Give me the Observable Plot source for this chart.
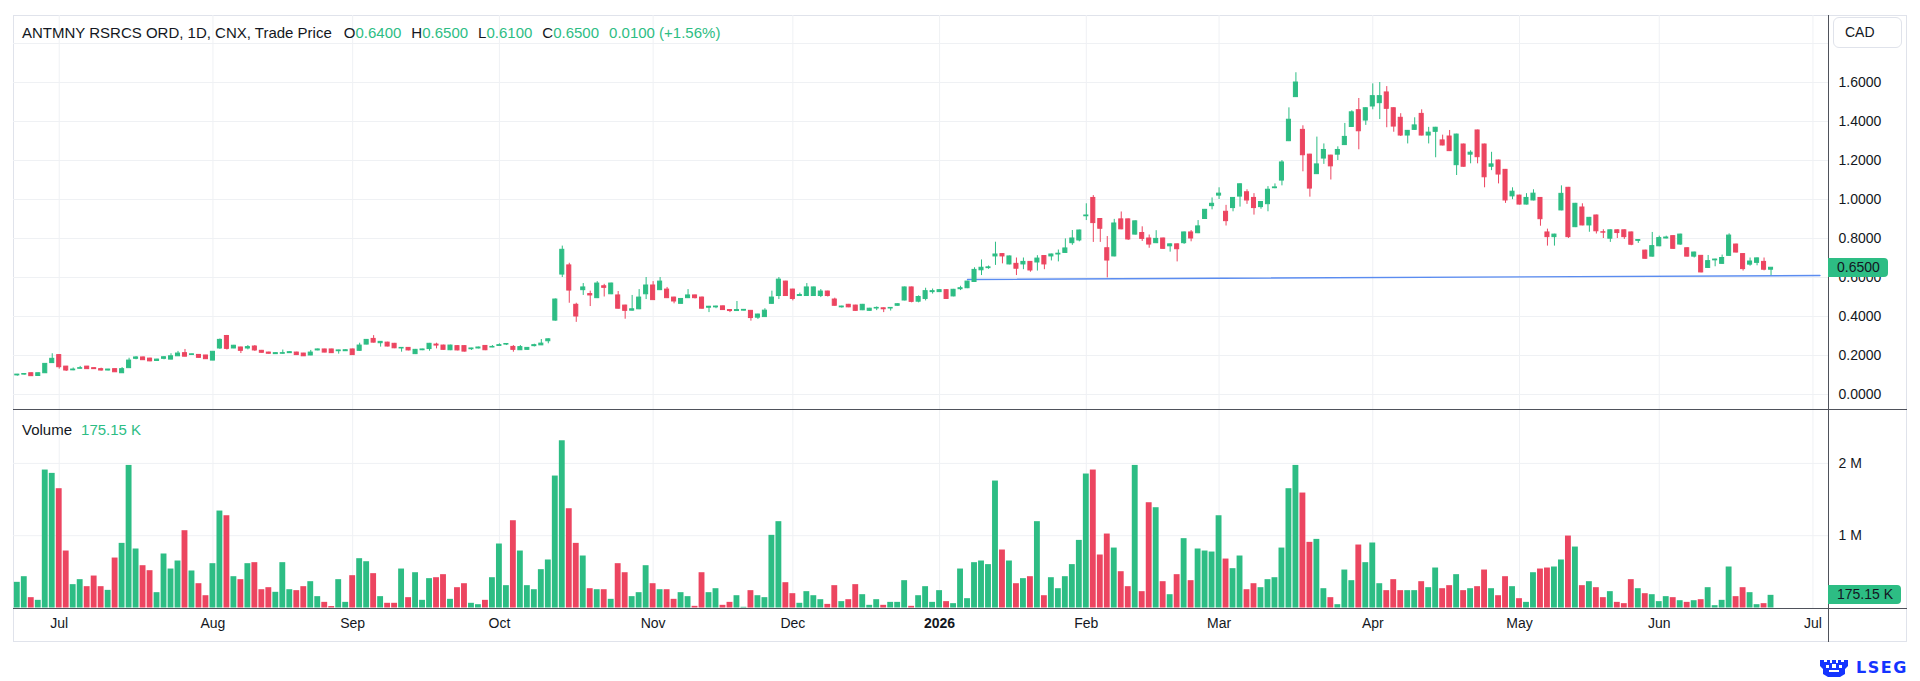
<!DOCTYPE html>
<html><head><meta charset="utf-8">
<script src="https://cdn.jsdelivr.net/npm/d3@7"></script>
<script src="https://cdn.jsdelivr.net/npm/@observablehq/plot@0.6"></script>
<style>
html,body{margin:0;padding:0;background:#fff;}
#wrap{position:relative;width:1920px;height:681px;overflow:hidden;font-family:"Liberation Sans",Arial,sans-serif;color:#131722;background:#fff;}
.ov{position:absolute;white-space:pre;}
.g{color:#2dbd84}
</style></head>
<body><div id="wrap"></div>
<script>
// ---------- DATA ----------
const open = [
0.098,0.102,0.109,0.095,0.109,0.161,0.202,0.143,0.124,0.132,
0.143,0.135,0.130,0.123,0.130,0.109,0.135,0.183,0.190,0.184,
0.172,0.183,0.179,0.196,0.212,0.203,0.203,0.200,0.174,0.236,
0.300,0.236,0.241,0.236,0.246,0.224,0.215,0.207,0.209,0.212,
0.215,0.210,0.200,0.226,0.231,0.231,0.222,0.222,0.231,0.224,
0.256,0.285,0.263,0.266,0.260,0.236,0.239,0.207,0.227,0.233,
0.256,0.251,0.227,0.248,0.248,0.232,0.236,0.249,0.241,0.249,
0.256,0.244,0.227,0.229,0.248,0.252,0.273,0.379,0.615,0.662,
0.460,0.535,0.515,0.494,0.555,0.514,0.508,0.456,0.430,0.437,
0.514,0.559,0.535,0.538,0.497,0.465,0.494,0.508,0.497,0.445,
0.447,0.452,0.433,0.428,0.430,0.429,0.394,0.397,0.465,0.505,
0.579,0.538,0.505,0.505,0.505,0.505,0.528,0.487,0.447,0.460,
0.456,0.432,0.429,0.441,0.442,0.441,0.455,0.482,0.549,0.476,
0.490,0.525,0.525,0.535,0.503,0.540,0.545,0.577,0.637,0.648,
0.708,0.720,0.667,0.670,0.667,0.680,0.677,0.710,0.708,0.718,
0.726,0.776,0.790,0.914,1.008,0.900,0.750,0.708,0.898,0.898,
0.820,0.828,0.800,0.776,0.800,0.760,0.770,0.776,0.831,0.827,
0.900,0.966,1.020,0.937,0.956,1.015,1.037,1.008,0.961,0.976,
1.058,1.097,1.299,1.525,1.357,1.230,1.130,1.210,1.225,1.230,
1.279,1.372,1.458,1.405,1.477,1.494,1.549,1.468,1.419,1.328,
1.357,1.439,1.328,1.347,1.303,1.323,1.176,1.282,1.230,1.354,
1.282,1.168,1.200,1.152,1.016,1.020,0.974,0.995,1.008,0.831,
0.807,0.944,1.060,0.858,0.959,0.867,0.918,0.832,0.799,0.842,
0.842,0.831,0.788,0.738,0.707,0.760,0.800,0.812,0.769,0.750,
0.707,0.711,0.649,0.688,0.670,0.711,0.769,0.720,0.666,0.675,
0.680,0.640];
const high = [
0.103,0.107,0.110,0.110,0.158,0.209,0.205,0.144,0.136,0.144,
0.144,0.137,0.135,0.129,0.131,0.138,0.186,0.194,0.192,0.186,
0.181,0.194,0.209,0.221,0.231,0.207,0.205,0.201,0.220,0.285,
0.303,0.252,0.243,0.251,0.251,0.226,0.217,0.214,0.228,0.219,
0.217,0.211,0.226,0.233,0.232,0.232,0.227,0.229,0.233,0.263,
0.282,0.302,0.271,0.268,0.262,0.240,0.240,0.231,0.232,0.262,
0.263,0.253,0.253,0.250,0.250,0.237,0.243,0.251,0.251,0.260,
0.260,0.251,0.251,0.241,0.258,0.282,0.285,0.490,0.761,0.673,
0.468,0.569,0.530,0.579,0.565,0.571,0.528,0.458,0.508,0.538,
0.600,0.579,0.600,0.549,0.499,0.492,0.538,0.510,0.500,0.452,
0.453,0.454,0.435,0.477,0.436,0.431,0.412,0.440,0.530,0.600,
0.581,0.540,0.520,0.569,0.551,0.538,0.530,0.494,0.453,0.462,
0.458,0.462,0.442,0.449,0.444,0.446,0.465,0.551,0.551,0.506,
0.545,0.541,0.537,0.537,0.539,0.555,0.581,0.650,0.690,0.659,
0.781,0.722,0.710,0.700,0.700,0.682,0.712,0.712,0.720,0.741,
0.798,0.841,0.843,0.978,1.020,0.902,0.810,0.898,0.936,0.900,
0.890,0.860,0.818,0.840,0.802,0.772,0.772,0.833,0.841,0.892,
0.949,1.008,1.060,0.970,1.010,1.080,1.050,1.030,0.989,1.066,
1.080,1.200,1.470,1.650,1.378,1.232,1.320,1.285,1.227,1.270,
1.390,1.455,1.518,1.470,1.593,1.600,1.579,1.470,1.440,1.354,
1.419,1.460,1.370,1.370,1.330,1.354,1.335,1.284,1.250,1.356,
1.284,1.242,1.202,1.154,1.060,1.022,1.030,1.050,1.010,0.848,
0.822,1.070,1.062,0.980,0.978,0.908,0.920,0.845,0.844,0.844,
0.844,0.833,0.794,0.740,0.831,0.812,0.812,0.814,0.822,0.752,
0.730,0.713,0.713,0.694,0.715,0.824,0.771,0.722,0.700,0.700,
0.700,0.650];
const low = [
0.094,0.100,0.093,0.094,0.108,0.160,0.130,0.118,0.122,0.131,
0.129,0.129,0.120,0.121,0.113,0.108,0.134,0.178,0.175,0.168,
0.170,0.178,0.178,0.195,0.193,0.202,0.186,0.180,0.173,0.231,
0.228,0.235,0.210,0.229,0.221,0.212,0.207,0.206,0.207,0.211,
0.200,0.195,0.199,0.224,0.214,0.211,0.207,0.221,0.201,0.222,
0.255,0.264,0.243,0.244,0.235,0.217,0.224,0.205,0.225,0.222,
0.234,0.227,0.225,0.224,0.218,0.226,0.234,0.225,0.240,0.248,
0.251,0.217,0.226,0.228,0.244,0.251,0.260,0.376,0.600,0.468,
0.370,0.508,0.451,0.492,0.500,0.512,0.438,0.386,0.428,0.435,
0.487,0.482,0.533,0.492,0.465,0.463,0.492,0.490,0.438,0.420,
0.440,0.431,0.420,0.426,0.428,0.376,0.385,0.395,0.463,0.487,
0.503,0.480,0.503,0.503,0.503,0.497,0.500,0.453,0.443,0.445,
0.427,0.430,0.427,0.430,0.420,0.428,0.453,0.480,0.470,0.470,
0.480,0.515,0.523,0.488,0.501,0.533,0.543,0.575,0.610,0.642,
0.662,0.670,0.665,0.610,0.640,0.627,0.633,0.640,0.685,0.680,
0.724,0.765,0.783,0.892,0.780,0.780,0.598,0.706,0.845,0.790,
0.818,0.785,0.750,0.774,0.745,0.730,0.680,0.770,0.783,0.825,
0.898,0.947,1.000,0.864,0.937,0.961,0.975,0.920,0.950,0.937,
1.055,1.070,1.297,1.523,1.142,1.012,1.128,1.180,1.100,1.200,
1.277,1.370,1.255,1.380,1.460,1.410,1.368,1.345,1.323,1.285,
1.355,1.326,1.285,1.214,1.275,1.246,1.123,1.166,1.183,1.183,
1.060,1.148,1.080,0.980,0.999,0.972,0.972,0.993,0.863,0.761,
0.761,0.942,0.800,0.856,0.865,0.832,0.823,0.800,0.780,0.800,
0.795,0.763,0.775,0.694,0.705,0.758,0.798,0.745,0.765,0.705,
0.700,0.624,0.647,0.655,0.668,0.709,0.726,0.633,0.658,0.660,
0.634,0.610];
const close = [
0.102,0.105,0.094,0.109,0.157,0.183,0.140,0.123,0.128,0.135,
0.130,0.130,0.123,0.128,0.114,0.130,0.174,0.190,0.176,0.170,
0.179,0.191,0.196,0.210,0.194,0.206,0.188,0.181,0.219,0.280,
0.234,0.250,0.224,0.243,0.226,0.214,0.209,0.212,0.212,0.217,
0.202,0.196,0.215,0.231,0.215,0.212,0.226,0.227,0.202,0.251,
0.280,0.266,0.270,0.246,0.237,0.239,0.226,0.229,0.231,0.260,
0.251,0.229,0.251,0.226,0.220,0.236,0.241,0.227,0.244,0.253,
0.259,0.229,0.243,0.239,0.253,0.261,0.283,0.487,0.742,0.533,
0.400,0.549,0.508,0.569,0.547,0.569,0.440,0.429,0.437,0.497,
0.559,0.484,0.579,0.494,0.477,0.490,0.508,0.494,0.440,0.450,
0.451,0.433,0.428,0.433,0.434,0.392,0.410,0.430,0.497,0.589,
0.505,0.490,0.510,0.549,0.549,0.528,0.505,0.455,0.451,0.447,
0.429,0.460,0.440,0.444,0.437,0.444,0.463,0.549,0.475,0.500,
0.530,0.530,0.535,0.490,0.537,0.545,0.579,0.639,0.650,0.652,
0.718,0.708,0.708,0.645,0.680,0.636,0.697,0.667,0.718,0.722,
0.749,0.800,0.841,0.918,0.879,0.850,0.687,0.877,0.847,0.795,
0.888,0.798,0.769,0.798,0.747,0.770,0.745,0.831,0.800,0.862,
0.947,0.978,1.030,0.889,1.008,1.078,0.995,0.956,0.987,1.050,
1.062,1.190,1.409,1.600,1.227,1.056,1.180,1.254,1.170,1.254,
1.321,1.447,1.350,1.468,1.530,1.530,1.465,1.374,1.328,1.352,
1.380,1.328,1.343,1.368,1.277,1.248,1.333,1.168,1.240,1.217,
1.114,1.180,1.128,0.995,1.040,0.974,1.008,1.030,0.899,0.807,
0.820,1.029,0.807,0.978,0.867,0.906,0.837,0.830,0.842,0.828,
0.807,0.768,0.792,0.696,0.761,0.802,0.805,0.747,0.820,0.707,
0.728,0.626,0.684,0.692,0.700,0.815,0.728,0.643,0.682,0.698,
0.640,0.650];
// volume in millions
const volume = [
0.355,0.433,0.143,0.106,1.908,1.862,1.650,0.788,0.323,0.392,
0.295,0.442,0.295,0.244,0.691,0.894,1.972,0.816,0.585,0.516,
0.212,0.747,0.539,0.650,1.069,0.512,0.336,0.170,0.613,1.341,
1.276,0.433,0.392,0.613,0.627,0.253,0.281,0.217,0.627,0.253,
0.240,0.295,0.364,0.157,0.078,0.020,0.392,0.078,0.447,0.682,
0.640,0.475,0.157,0.065,0.065,0.539,0.143,0.488,0.106,0.406,
0.419,0.461,0.120,0.281,0.336,0.065,0.046,0.106,0.419,0.885,
0.309,1.207,0.788,0.309,0.253,0.530,0.664,1.825,2.313,1.373,
0.894,0.719,0.267,0.253,0.253,0.120,0.613,0.488,0.157,0.212,
0.585,0.336,0.253,0.253,0.120,0.212,0.157,0.023,0.488,0.212,
0.267,0.037,0.078,0.170,0.010,0.240,0.170,0.143,1.005,1.194,
0.350,0.198,0.065,0.226,0.170,0.115,0.050,0.309,0.088,0.115,
0.323,0.184,0.037,0.115,0.037,0.078,0.078,0.378,0.023,0.170,
0.295,0.078,0.240,0.088,0.060,0.539,0.129,0.627,0.650,0.600,
1.756,0.802,0.650,0.336,0.406,0.433,1.194,0.170,0.419,0.267,
0.433,0.600,0.935,1.853,1.908,0.733,1.023,0.829,0.502,0.295,
1.972,0.226,1.456,1.387,0.364,0.184,0.461,0.959,0.378,0.816,
0.788,0.774,1.276,0.677,0.544,0.719,0.253,0.336,0.281,0.392,
0.419,0.829,1.650,1.972,1.590,0.908,0.949,0.267,0.143,0.046,
0.525,0.378,0.871,0.627,0.899,0.336,0.240,0.392,0.240,0.240,
0.240,0.364,0.281,0.553,0.267,0.309,0.461,0.240,0.267,0.295,
0.525,0.267,0.170,0.433,0.295,0.129,0.078,0.488,0.539,0.553,
0.567,0.664,0.995,0.843,0.309,0.364,0.281,0.143,0.226,0.078,
0.060,0.392,0.267,0.198,0.184,0.088,0.157,0.143,0.101,0.078,
0.101,0.115,0.281,0.032,0.106,0.567,0.157,0.281,0.212,0.046,
0.060,0.17515];
// month ticks: trading-day index of first session of each month
const monthIdx = [6,28,48,69,91,111,132,153,172,194,215,235,257];
const monthLabels = ["Jul","Aug","Sep","Oct","Nov","Dec","2026","Feb","Mar","Apr","May","Jun","Jul"];
const priceTicks = [0,0.2,0.4,0.6,0.8,1.0,1.2,1.4,1.6];
const priceGrid = [0,0.2,0.4,0.6,0.8,1.0,1.2,1.4,1.6,1.8];
const volTicks = [1,2];
const trendIdx = [136,258];
const trendVal = [0.59,0.61];
const titleText = "ANTMNY RSRCS ORD, 1D, CNX, Trade Price";
const currency = "CAD";

// ---------- BUILD ----------
const G = "#2dbd84", R = "#ec4560";
const candles = open.map((o,i)=>({i, o, h:high[i], l:low[i], c:close[i], v:volume[i], col: close[i]>=o ? G : R}));
const months = monthIdx.map((i,k)=>({i, label:monthLabels[k]}));
const trend = trendIdx.map((i,k)=>({i, v:trendVal[k]}));
const FONT = "'Liberation Sans', Arial, sans-serif";
const xOpt = {type:"linear", domain:[0,251], range:[16.8, 16.8+6.987*251], axis:null};
const GRID = "#eff1f4";

const wrap = document.getElementById("wrap");

const price = Plot.plot({
  width:1920, height:409, marginLeft:13, marginRight:92, marginTop:15, marginBottom:0,
  x: xOpt,
  y: {domain:[0,1.6], range:[394,82], axis:null},
  style:{background:"transparent", fontFamily:FONT, fontSize:"14px", color:"#131722", overflow:"visible"},
  marks:[
    Plot.gridY(priceGrid, {stroke:GRID, strokeOpacity:1}),
    Plot.gridX(monthIdx, {stroke:GRID, strokeOpacity:1}),
    Plot.line(trend, {x:"i", y:"v", stroke:"#5b8cf0", strokeWidth:1.4}),
    Plot.ruleX(candles, {x:"i", y1:"l", y2:"h", stroke:"col", strokeWidth:1}),
    Plot.rect(candles, {x1:d=>d.i-0.29, x2:d=>d.i+0.29, y1:"o", y2:"c", fill:"col", stroke:"col", strokeWidth:1}),
    Plot.text(priceTicks, {y:d=>d, text:d=>d.toFixed(4), frameAnchor:"right", dx:10, textAnchor:"start"})
  ]
});
price.style.position="absolute"; price.style.left="0px"; price.style.top="0px";

const vol = Plot.plot({
  width:1920, height:272, marginLeft:13, marginRight:92, marginTop:0, marginBottom:72,
  x: xOpt,
  y: {domain:[0,2], range:[198.5,53.9], axis:null},
  style:{background:"transparent", fontFamily:FONT, fontSize:"14px", color:"#131722", overflow:"visible"},
  marks:[
    Plot.gridY(volTicks, {stroke:GRID, strokeOpacity:1}),
    Plot.gridX(monthIdx, {stroke:GRID, strokeOpacity:1}),
    Plot.rect(candles, {x1:d=>d.i-0.42, x2:d=>d.i+0.42, y1:0, y2:"v", fill:"col"}),
    Plot.text(volTicks, {y:d=>d, text:d=>d+" M", frameAnchor:"right", dx:10, textAnchor:"start"}),
    Plot.text(months.filter(d=>d.label!=="2026"), {x:"i", text:"label", frameAnchor:"bottom", dy:18}),
    Plot.text(months.filter(d=>d.label==="2026"), {x:"i", text:"label", frameAnchor:"bottom", dy:18, fontWeight:"bold"})
  ]
});
vol.style.position="absolute"; vol.style.left="0px"; vol.style.top="409px";

function div(css, html){const d=document.createElement("div"); d.className="ov"; d.style.cssText=css; if(html!==undefined) d.innerHTML=html; wrap.appendChild(d); return d;}

// frame and separators
div("left:13px;top:15px;width:1894px;height:627px;border:1px solid #e0e3eb;box-sizing:border-box;");
wrap.appendChild(price);
wrap.appendChild(vol);
const LINE="#4f525b";
div(`left:1828px;top:15px;width:1px;height:627px;background:${LINE};`);
div(`left:13px;top:409px;width:1894px;height:1px;background:${LINE};`);
div(`left:13px;top:608px;width:1894px;height:1px;background:${LINE};`);

// title legend
const last = close.length-1;
const ohlc = [["O",open[last]],["H",high[last]],["L",low[last]],["C",close[last]]];
const chg = close[last]-close[last-1];
const pct = chg/close[last-1]*100;
let t = `<span>${titleText}</span>`;
ohlc.forEach(([k,v],n)=>{ t += `<span style="margin-left:${n?10:12}px">${k}</span><span class="g">${v.toFixed(4)}</span>`; });
t += `<span class="g" style="margin-left:10px">${chg.toFixed(4)} (${chg>=0?"+":""}${pct.toFixed(2)}%)</span>`;
div("left:22px;top:24px;font-size:15px;line-height:18px;", t);

div(`left:22px;top:421px;font-size:15px;line-height:18px;`, `<span>Volume</span><span class="g" style="margin-left:9px">${(volume[last]*1000).toFixed(2)} K</span>`);

// currency box
div("left:1833px;top:17px;width:69px;height:31px;border:1px solid #e0e3eb;border-radius:6px;box-sizing:border-box;font-size:14px;line-height:29px;padding-left:11px;background:#fff;", currency);

// last price tag
const py = price.scale("y").apply(close[last]);
div(`left:1828px;top:${py-9.5}px;width:60px;height:19px;background:${G};border-radius:0 4px 4px 0;font-size:14px;line-height:19px;padding-left:9px;box-sizing:border-box;`, close[last].toFixed(4));
// last volume tag
const vy = vol.scale("y").apply(volume[last]) + 409;
div(`left:1828px;top:${vy-9.5}px;width:73px;height:19px;background:${G};border-radius:0 4px 4px 0;font-size:14px;line-height:19px;padding-left:9px;box-sizing:border-box;`, `${(volume[last]*1000).toFixed(2)} K`);

// LSEG logo
div("left:1818px;top:657px;display:flex;align-items:center;gap:6px;",
 `<svg width="32" height="20" viewBox="0 0 32 20"><g fill="#1434ff"><path d="M2 3h4v2h3V3h3v3h2V3h4v3h2V3h3v2h3V3h4v6l-3 3v5l-5 3h-12l-5-3v-5l-3-3z"/></g><g fill="#fff"><rect x="8" y="8" width="3" height="3"/><rect x="14" y="7" width="4" height="4"/><rect x="21" y="8" width="3" height="3"/><rect x="11" y="13" width="10" height="2"/></g></svg><span style="font-family:'DejaVu Sans',sans-serif;font-weight:bold;font-size:16px;color:#1434ff;letter-spacing:1.5px;">LSEG</span>`);
</script></body></html>
